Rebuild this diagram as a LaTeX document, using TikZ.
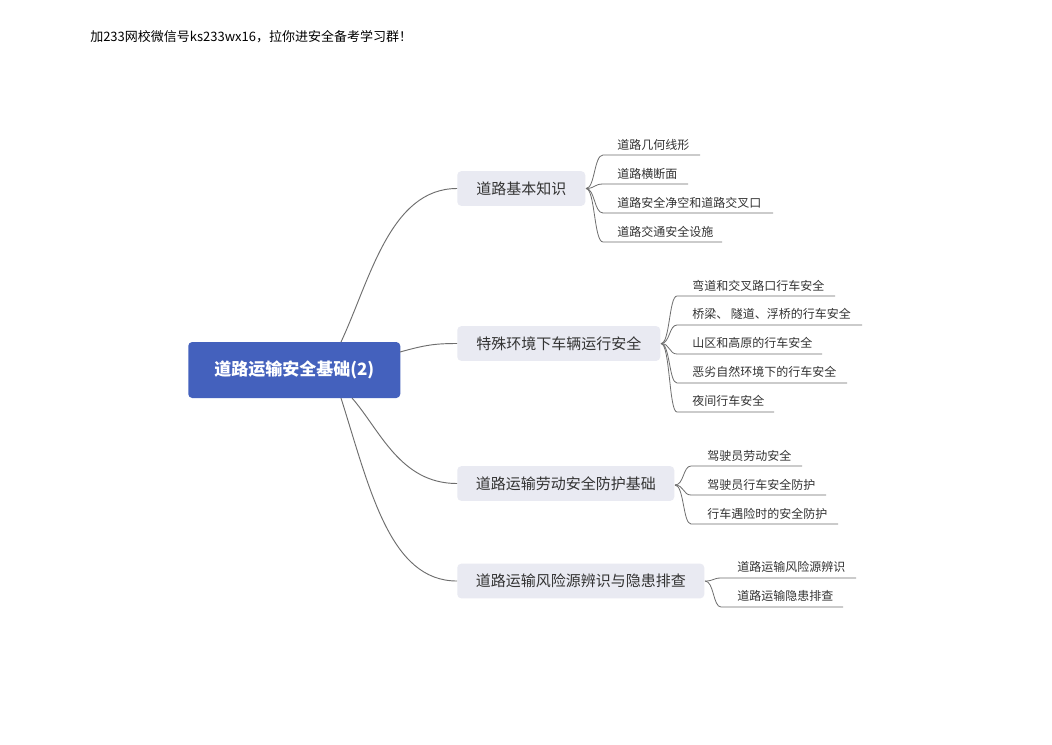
\documentclass[tikz,border=0pt]{standalone}
\usepackage{fontspec}
\setmainfont{Noto Sans CJK SC}
\usetikzlibrary{positioning}
\definecolor{rootblue}{HTML}{4461BD}
\definecolor{branchfill}{HTML}{E9EAF2}
\definecolor{txt}{HTML}{333333}
\definecolor{ln}{HTML}{6E6E6E}
\tikzset{
  rootbox/.style={fill=rootblue, rounded corners=3pt, text=white, font=\fontsize{12.75pt}{14pt}\selectfont\bfseries, minimum height=42pt, inner sep=0pt, anchor=west},
  branchbox/.style={fill=branchfill, rounded corners=3pt, text=txt, font=\fontsize{11.25pt}{13pt}\selectfont, minimum height=26pt, inner sep=0pt, anchor=west},
  leaftext/.style={text=txt, font=\fontsize{9pt}{11pt}\selectfont, inner sep=0pt, anchor=west},
  conn/.style={draw=ln, line width=0.7pt},
  leafconn/.style={draw=ln, line width=0.6pt},
}
\begin{document}
\begin{tikzpicture}[x=0.75pt, y=-0.75pt]
\useasboundingbox (0,0) rectangle (1052,744);
\fill[white] (0,0) rectangle (1052,744);

\node[anchor=west, inner sep=0pt, font=\fontsize{9.75pt}{12pt}\selectfont, text=black] (title) at (90,37) {加233网校微信号ks233wx16，拉你进安全备考学习群！};

% root
\node[rootbox, minimum width=159pt] (root) at (188,370) {道路运输安全基础(2)};

% branches
\node[branchbox, minimum width=96pt] (b1) at (457,188.5) {道路基本知识};
\node[branchbox, minimum width=152.25pt] (b2) at (457,343.5) {特殊环境下车辆运行安全};
\node[branchbox, minimum width=162.75pt] (b3) at (457,483.5) {道路运输劳动安全防护基础};
\node[branchbox, minimum width=185.25pt] (b4) at (457,581) {道路运输风险源辨识与隐患排查};

% root connectors
\coordinate (r1) at (341,342);
\coordinate (r2) at (400,352);
\coordinate (r3) at (352,398);
\coordinate (r4) at (341,398);
\draw[conn] (r1) .. controls (370,280) and (390,188.5) .. (b1.west);
\draw[conn] (r2) .. controls (425,345) and (435,343.5) .. (b2.west);
\draw[conn] (r3) .. controls (380,430) and (400,483.5) .. (b3.west);
\draw[conn] (r4) .. controls (370,490) and (390,581) .. (b4.west);

% branch 1 leaves
\node[leaftext] (l11) at (617,145) {道路几何线形};
\node[leaftext] (l12) at (617,174) {道路横断面};
\node[leaftext] (l13) at (617,203) {道路安全净空和道路交叉口};
\node[leaftext] (l14) at (617,232) {道路交通安全设施};
\coordinate (s1) at (586,188.5);
\coordinate (u11) at (603,155); \coordinate (e11) at (700,155);
\coordinate (u12) at (603,184); \coordinate (e12) at (688,184);
\coordinate (u13) at (603,213); \coordinate (e13) at (773,213);
\coordinate (u14) at (603,242); \coordinate (e14) at (722,242);
\foreach \i in {11,12,13,14}{
  \draw[leafconn] (s1) .. controls (595,188.5) and (594,0|-u\i) .. (u\i) -- (e\i);
}

% branch 2 leaves
\node[leaftext] (l21) at (692,286) {弯道和交叉路口行车安全};
\node[leaftext] (l22) at (692,314) {桥梁、 隧道、浮桥的行车安全};
\node[leaftext] (l23) at (692,343) {山区和高原的行车安全};
\node[leaftext] (l24) at (692,372) {恶劣自然环境下的行车安全};
\node[leaftext] (l25) at (692,401) {夜间行车安全};
\coordinate (s2) at (661,343.5);
\coordinate (u21) at (677,296); \coordinate (e21) at (835,296);
\coordinate (u22) at (677,325); \coordinate (e22) at (862,325);
\coordinate (u23) at (677,354); \coordinate (e23) at (822,354);
\coordinate (u24) at (677,383); \coordinate (e24) at (847,383);
\coordinate (u25) at (677,412); \coordinate (e25) at (774,412);
\foreach \i in {21,22,23,24,25}{
  \draw[leafconn] (s2) .. controls (670,343.5) and (669,0|-u\i) .. (u\i) -- (e\i);
}

% branch 3 leaves
\node[leaftext] (l31) at (707,456) {驾驶员劳动安全};
\node[leaftext] (l32) at (707,485) {驾驶员行车安全防护};
\node[leaftext] (l33) at (707,514) {行车遇险时的安全防护};
\coordinate (s3) at (675,485);
\coordinate (u31) at (691,466); \coordinate (e31) at (802,466);
\coordinate (u32) at (691,495); \coordinate (e32) at (826,495);
\coordinate (u33) at (691,524); \coordinate (e33) at (838,524);
\foreach \i in {31,32,33}{
  \draw[leafconn] (s3) .. controls (684,485) and (683,0|-u\i) .. (u\i) -- (e\i);
}

% branch 4 leaves
\node[leaftext] (l41) at (737,567) {道路运输风险源辨识};
\node[leaftext] (l42) at (737,596) {道路运输隐患排查};
\coordinate (s4) at (705,581);
\coordinate (u41) at (721,578); \coordinate (e41) at (856,578);
\coordinate (u42) at (721,607); \coordinate (e42) at (843,607);
\foreach \i in {41,42}{
  \draw[leafconn] (s4) .. controls (714,581) and (713,0|-u\i) .. (u\i) -- (e\i);
}
\end{tikzpicture}
\end{document}
